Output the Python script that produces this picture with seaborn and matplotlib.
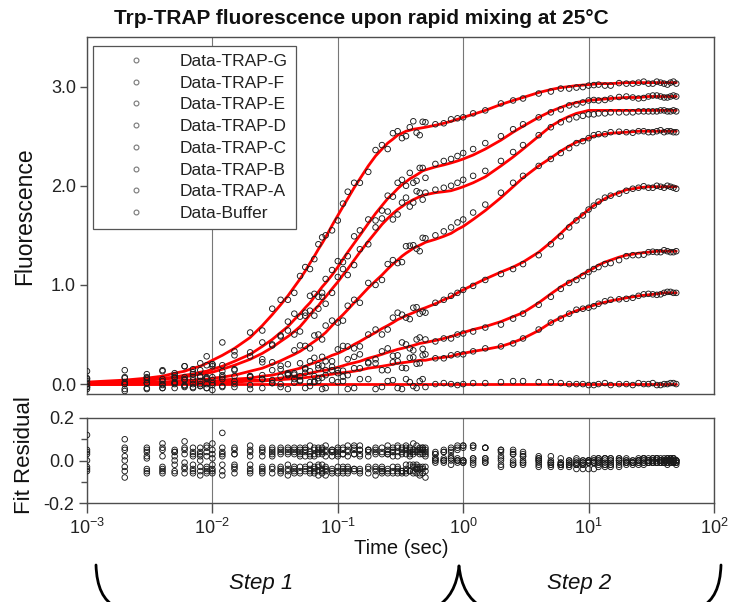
import numpy as np
import pandas as pd
import matplotlib
matplotlib.use("Agg")
import matplotlib.pyplot as plt
import seaborn as sns
from matplotlib.lines import Line2D
from matplotlib.path import Path
from matplotlib.patches import PathPatch
from matplotlib.ticker import FixedLocator, NullLocator, FormatStrFormatter

sns.set_theme(style="white")
plt.rcParams['font.family'] = ['Liberation Sans', 'DejaVu Sans']

# ---------------- data ----------------
series_names = ["Data-TRAP-G", "Data-TRAP-F", "Data-TRAP-E", "Data-TRAP-D",
                "Data-TRAP-C", "Data-TRAP-B", "Data-TRAP-A", "Data-Buffer"]

# --- sampling set 1 ---
time_s = [0.001, 0.002, 0.003, 0.004, 0.005, 0.006, 0.007, 0.008, 0.009, 0.01,
          0.012, 0.015, 0.02, 0.025, 0.03, 0.04, 0.05, 0.06, 0.07, 0.08,
          0.1, 0.12, 0.15, 0.2, 0.25, 0.3, 0.35, 0.4, 0.45, 0.5,
          0.6, 0.7, 0.8, 0.9, 1.0, 1.2, 1.5, 2.0, 2.5, 3.0,
          4.0, 5.0, 6.0, 7.0, 8.0, 10.0, 12.0, 15.0, 20.0, 25.0,
          30.0, 35.0, 40.0, 45.0, 50.0]

# red fit curves
fit_G = [0.02, 0.04, 0.06, 0.08, 0.11, 0.13, 0.16, 0.18, 0.21, 0.24,
         0.29, 0.36, 0.47, 0.59, 0.70, 0.89, 1.06, 1.22, 1.36, 1.48,
         1.70, 1.87, 2.07, 2.30, 2.43, 2.51, 2.55, 2.57, 2.58, 2.59,
         2.61, 2.63, 2.65, 2.67, 2.69, 2.72, 2.76, 2.82, 2.86, 2.89,
         2.94, 2.97, 2.99, 3.00, 3.01, 3.02, 3.03, 3.03, 3.04, 3.04,
         3.04, 3.04, 3.04, 3.04, 3.04]
fit_F = [0.01, 0.03, 0.04, 0.06, 0.07, 0.09, 0.10, 0.12, 0.13, 0.15,
         0.18, 0.23, 0.30, 0.38, 0.45, 0.58, 0.71, 0.82, 0.93, 1.02,
         1.18, 1.33, 1.50, 1.72, 1.87, 1.97, 2.04, 2.09, 2.13, 2.16,
         2.19, 2.21, 2.23, 2.25, 2.27, 2.31, 2.37, 2.46, 2.54, 2.60,
         2.69, 2.75, 2.79, 2.82, 2.84, 2.86, 2.87, 2.88, 2.89, 2.89,
         2.90, 2.90, 2.90, 2.90, 2.90]
fit_E = [0.01, 0.02, 0.04, 0.05, 0.06, 0.07, 0.09, 0.10, 0.11, 0.12,
         0.15, 0.19, 0.25, 0.31, 0.37, 0.48, 0.58, 0.70, 0.79, 0.88,
         1.03, 1.16, 1.33, 1.53, 1.67, 1.76, 1.82, 1.86, 1.89, 1.91,
         1.93, 1.94, 1.95, 1.97, 1.99, 2.03, 2.09, 2.20, 2.29, 2.37,
         2.50, 2.60, 2.66, 2.70, 2.73, 2.76, 2.76, 2.76, 2.76, 2.76,
         2.76, 2.76, 2.76, 2.76, 2.76]
fit_D = [0.00, 0.01, 0.02, 0.02, 0.03, 0.04, 0.04, 0.05, 0.05, 0.06,
         0.07, 0.09, 0.13, 0.16, 0.20, 0.27, 0.33, 0.40, 0.46, 0.52,
         0.65, 0.75, 0.88, 1.04, 1.16, 1.25, 1.32, 1.37, 1.40, 1.43,
         1.46, 1.49, 1.52, 1.56, 1.59, 1.66, 1.75, 1.88, 1.99, 2.08,
         2.20, 2.28, 2.35, 2.40, 2.44, 2.48, 2.51, 2.53, 2.54, 2.55,
         2.55, 2.55, 2.55, 2.55, 2.55]
fit_C = [0.00, 0.00, 0.01, 0.01, 0.01, 0.02, 0.02, 0.02, 0.03, 0.03,
         0.04, 0.05, 0.06, 0.08, 0.09, 0.13, 0.16, 0.20, 0.23, 0.26,
         0.31, 0.36, 0.43, 0.52, 0.59, 0.65, 0.69, 0.72, 0.75, 0.77,
         0.81, 0.85, 0.88, 0.92, 0.95, 1.00, 1.06, 1.13, 1.18, 1.23,
         1.33, 1.43, 1.52, 1.60, 1.66, 1.76, 1.83, 1.90, 1.96, 1.98,
         1.99, 1.99, 1.99, 1.99, 1.99]
fit_B = [0.00, 0.00, 0.00, 0.01, 0.01, 0.01, 0.01, 0.01, 0.02, 0.02,
         0.02, 0.03, 0.04, 0.04, 0.05, 0.07, 0.09, 0.11, 0.13, 0.14,
         0.17, 0.20, 0.23, 0.28, 0.32, 0.35, 0.37, 0.39, 0.41, 0.42,
         0.44, 0.46, 0.48, 0.50, 0.52, 0.55, 0.58, 0.63, 0.68, 0.72,
         0.82, 0.91, 0.98, 1.03, 1.07, 1.14, 1.20, 1.25, 1.30, 1.32,
         1.33, 1.34, 1.34, 1.34, 1.34]
fit_A = [0.00, 0.00, 0.00, 0.00, 0.01, 0.01, 0.01, 0.01, 0.01, 0.01,
         0.01, 0.02, 0.03, 0.03, 0.04, 0.05, 0.06, 0.07, 0.08, 0.09,
         0.11, 0.12, 0.14, 0.17, 0.19, 0.21, 0.22, 0.23, 0.24, 0.24,
         0.26, 0.27, 0.28, 0.30, 0.31, 0.33, 0.35, 0.38, 0.42, 0.46,
         0.54, 0.62, 0.67, 0.71, 0.74, 0.78, 0.81, 0.84, 0.87, 0.89,
         0.90, 0.91, 0.92, 0.92, 0.92]
fit_Buf = [0.00, 0.00, 0.00, 0.00, 0.00, 0.00, 0.00, 0.00, 0.00, 0.00,
           0.00, 0.00, 0.00, 0.00, 0.00, 0.00, 0.00, 0.00, 0.00, 0.00,
           0.00, 0.00, 0.00, 0.00, 0.00, 0.00, 0.00, 0.00, 0.00, 0.00,
           0.00, 0.00, 0.00, 0.00, 0.00, 0.00, 0.00, 0.00, 0.00, 0.00,
           0.00, 0.00, 0.00, 0.00, 0.00, 0.00, 0.00, 0.00, 0.00, 0.00,
           0.00, 0.00, 0.00, 0.00, 0.00]

# fit residuals (data - fit)
res_G = [0.04, 0.10, -0.05, 0.06, -0.02, 0.05, -0.06, 0.03, 0.07, -0.04,
         0.13, -0.03, 0.05, -0.05, 0.06, -0.04, 0.03, -0.06, 0.05, 0.02,
         -0.05, 0.07, -0.04, 0.06, -0.06, 0.04, -0.05, 0.08, -0.07, 0.05,
         0.01, 0.00, 0.02, 0.01, 0.00, 0.01, 0.00, 0.01, 0.00, -0.01,
         -0.01, -0.02, -0.01, -0.02, -0.02, -0.01, -0.01, -0.02, -0.01, 0.00,
         -0.01, 0.01, -0.01, 0.00, -0.01]
res_F = [0.12, -0.03, 0.06, -0.06, 0.04, 0.09, 0.02, -0.05, 0.06, 0.03,
         -0.05, 0.06, -0.02, 0.04, -0.06, 0.05, -0.03, 0.07, -0.05, 0.04,
         0.06, -0.04, 0.05, -0.07, 0.03, 0.06, -0.04, -0.06, 0.05, -0.08,
         0.03, 0.04, 0.04, 0.05, 0.06, 0.06, 0.06, 0.04, 0.03, 0.02,
         0.00, -0.01, -0.02, -0.01, -0.02, 0.00, -0.01, 0.00, 0.01, -0.01,
         0.00, 0.01, -0.01, 0.00, 0.00]
res_E = [-0.04, 0.05, 0.02, 0.08, -0.06, -0.03, 0.06, 0.04, -0.05, 0.08,
         0.04, -0.04, 0.07, -0.06, 0.03, 0.06, -0.05, 0.04, -0.03, -0.07,
         0.05, -0.06, 0.03, 0.05, 0.07, -0.05, 0.06, -0.03, 0.04, 0.02,
         0.03, 0.04, 0.05, 0.06, 0.07, 0.07, 0.06, 0.05, 0.05, 0.04,
         0.01, -0.01, -0.02, -0.03, -0.04, -0.04, -0.03, -0.02, -0.02, -0.01,
         -0.01, -0.01, 0.00, -0.01, -0.01]
res_D = [0.03, -0.08, 0.05, -0.03, 0.04, -0.06, 0.03, -0.07, 0.02, -0.05,
         0.02, 0.05, -0.06, 0.06, 0.02, -0.07, 0.06, -0.04, 0.04, 0.07,
         -0.03, 0.04, -0.06, -0.04, 0.05, -0.03, 0.07, 0.03, -0.06, 0.04,
         0.04, 0.05, 0.06, 0.07, 0.07, 0.07, 0.06, 0.05, 0.04, 0.02,
         0.00, -0.01, -0.02, -0.02, -0.01, 0.00, 0.01, 0.01, 0.00, 0.00,
         -0.01, 0.00, -0.01, 0.00, -0.01]
res_C = [-0.05, 0.02, -0.06, 0.02, -0.05, 0.03, -0.02, 0.06, -0.03, 0.01,
         -0.07, 0.03, 0.02, -0.03, 0.05, -0.02, 0.05, 0.03, -0.07, -0.03,
         0.04, 0.02, -0.05, 0.03, -0.04, 0.07, -0.02, 0.05, -0.04, -0.05,
         0.01, 0.00, 0.01, 0.00, 0.00, -0.01, -0.01, -0.02, -0.02, -0.02,
         -0.03, -0.02, -0.03, -0.02, -0.01, 0.00, 0.01, 0.00, -0.01, 0.00,
         -0.01, 0.01, -0.01, 0.00, -0.02]
res_B = [0.05, -0.05, 0.04, -0.05, 0.05, -0.04, -0.04, 0.02, -0.06, 0.05,
         0.03, -0.06, 0.04, 0.05, -0.04, 0.03, -0.06, 0.02, 0.06, -0.05,
         -0.06, 0.05, 0.07, -0.03, 0.04, -0.06, 0.03, -0.05, 0.06, 0.03,
         -0.01, 0.00, -0.02, 0.00, -0.01, -0.02, -0.01, -0.03, -0.02, -0.01,
         -0.02, -0.03, -0.02, -0.01, -0.02, -0.01, -0.02, -0.03, -0.01, -0.02,
         0.00, -0.01, 0.01, -0.01, 0.00]
res_A = [-0.03, 0.00, -0.04, 0.05, 0.00, 0.06, -0.05, -0.03, 0.04, -0.02,
         0.06, -0.02, -0.04, 0.02, -0.03, 0.04, 0.02, -0.05, -0.02, 0.05,
         0.03, -0.03, 0.02, 0.04, -0.05, 0.02, -0.06, 0.04, -0.03, 0.06,
         0.00, -0.01, 0.01, 0.00, -0.01, 0.00, 0.01, 0.00, -0.01, 0.00,
         0.01, 0.00, -0.01, 0.00, 0.01, -0.01, 0.00, 0.01, -0.01, 0.00,
         0.01, -0.01, 0.00, 0.01, 0.00]
res_Buf = [0.00, 0.06, 0.01, -0.04, 0.02, -0.01, 0.04, 0.00, -0.04, -0.06,
           -0.02, 0.03, -0.05, -0.04, 0.04, -0.05, 0.04, -0.02, 0.03, -0.04,
           0.02, -0.05, 0.05, -0.05, 0.03, -0.04, 0.05, -0.02, 0.03, -0.03,
           0.00, 0.01, 0.00, -0.01, 0.00, 0.01, 0.01, 0.02, 0.03, 0.03,
           0.02, 0.02, 0.01, 0.00, 0.00, -0.01, 0.00, -0.01, 0.00, 0.01,
           0.00, -0.01, 0.00, 0.01, 0.00]

# --- sampling set 2 (extra readings in the densely sampled stretches) ---
time_s_b = [0.035, 0.045, 0.055, 0.065, 0.075, 0.09, 0.11, 0.135, 0.175, 0.225,
            0.275, 0.325, 0.375, 0.425, 0.475,
            9.0, 11.0, 13.5, 17.5, 22.5, 27.5, 32.5, 37.5, 42.5, 47.5]

fit_G_b = [0.80, 0.98, 1.14, 1.29, 1.42, 1.60, 1.79, 1.98, 2.20, 2.37,
           2.47, 2.53, 2.56, 2.575, 2.585,
           3.015, 3.025, 3.03, 3.035, 3.04, 3.04, 3.04, 3.04, 3.04, 3.04]
fit_F_b = [0.52, 0.65, 0.77, 0.88, 0.98, 1.10, 1.26, 1.42, 1.62, 1.80,
           1.92, 2.01, 2.07, 2.11, 2.15,
           2.85, 2.865, 2.875, 2.885, 2.89, 2.895, 2.90, 2.90, 2.90, 2.90]
fit_E_b = [0.43, 0.53, 0.64, 0.75, 0.84, 0.96, 1.10, 1.25, 1.44, 1.61,
           1.72, 1.79, 1.84, 1.875, 1.90,
           2.745, 2.76, 2.76, 2.76, 2.76, 2.76, 2.76, 2.76, 2.76, 2.76]
fit_D_b = [0.235, 0.30, 0.365, 0.43, 0.49, 0.59, 0.70, 0.82, 0.97, 1.10,
           1.21, 1.29, 1.345, 1.385, 1.415,
           2.46, 2.50, 2.52, 2.535, 2.545, 2.55, 2.55, 2.55, 2.55, 2.55]
fit_C_b = [0.11, 0.145, 0.18, 0.215, 0.245, 0.29, 0.335, 0.40, 0.48, 0.56,
           0.62, 0.67, 0.705, 0.735, 0.76,
           1.71, 1.80, 1.87, 1.93, 1.97, 1.985, 1.99, 1.99, 1.99, 1.99]
fit_B_b = [0.06, 0.08, 0.10, 0.12, 0.135, 0.155, 0.185, 0.215, 0.26, 0.30,
           0.335, 0.36, 0.38, 0.40, 0.415,
           1.11, 1.17, 1.23, 1.28, 1.31, 1.325, 1.335, 1.34, 1.34, 1.34]
fit_A_b = [0.045, 0.055, 0.065, 0.075, 0.085, 0.10, 0.115, 0.13, 0.16, 0.18,
           0.20, 0.215, 0.225, 0.235, 0.24,
           0.76, 0.795, 0.825, 0.855, 0.88, 0.895, 0.905, 0.915, 0.92, 0.92]
fit_Buf_b = [0.00, 0.00, 0.00, 0.00, 0.00, 0.00, 0.00, 0.00, 0.00, 0.00,
             0.00, 0.00, 0.00, 0.00, 0.00,
             0.00, 0.00, 0.00, 0.00, 0.00, 0.00, 0.00, 0.00, 0.00, 0.00]

res_G_b = [0.05, -0.06, 0.04, -0.03, 0.06, -0.05, 0.03, 0.05, -0.06, 0.04,
           0.06, -0.05, 0.03, -0.04, 0.06,
           -0.02, -0.01, -0.02, 0.00, -0.01, 0.01, -0.01, 0.00, -0.02, 0.01]
res_F_b = [-0.04, 0.06, -0.05, 0.03, -0.06, 0.05, -0.03, 0.07, 0.04, -0.05,
           -0.03, 0.05, 0.06, -0.06, 0.03,
           -0.01, 0.00, -0.01, 0.01, 0.00, -0.01, 0.01, 0.00, -0.01, 0.01]
res_E_b = [0.06, -0.03, 0.05, -0.06, 0.04, -0.04, 0.06, -0.05, -0.03, 0.06,
           -0.06, 0.04, -0.05, 0.07, -0.04,
           -0.04, -0.04, -0.03, -0.02, -0.02, -0.01, -0.01, 0.00, -0.01, 0.00]
res_D_b = [-0.05, 0.04, 0.02, 0.06, -0.04, 0.05, -0.06, 0.03, 0.05, -0.05,
           0.04, -0.06, 0.05, -0.02, 0.06,
           -0.01, 0.01, 0.00, 0.01, -0.01, 0.00, -0.01, 0.01, 0.00, -0.01]
res_C_b = [0.04, -0.05, -0.03, 0.05, 0.03, -0.06, 0.05, -0.04, 0.02, -0.06,
           0.05, 0.03, -0.05, 0.04, -0.03,
           -0.01, 0.00, 0.01, -0.01, 0.00, 0.01, -0.01, 0.00, 0.01, -0.01]
res_B_b = [-0.06, 0.03, 0.06, -0.04, 0.05, 0.02, -0.05, 0.06, -0.04, 0.03,
           -0.05, 0.06, -0.02, 0.05, -0.06,
           -0.02, -0.01, -0.02, -0.03, -0.01, -0.02, 0.00, -0.01, 0.00, -0.01]
res_A_b = [0.03, -0.04, 0.05, -0.05, -0.02, 0.04, -0.04, 0.03, 0.05, -0.04,
           0.02, -0.05, 0.04, -0.03, 0.05,
           0.00, -0.01, 0.01, 0.00, -0.01, 0.01, 0.00, -0.01, 0.01, 0.00]
res_Buf_b = [-0.03, 0.05, -0.04, 0.02, -0.05, 0.04, 0.03, -0.04, 0.05, -0.03,
             0.04, -0.05, 0.02, -0.04, 0.05,
             0.00, -0.01, 0.01, 0.00, -0.01, 0.00, 0.01, -0.01, 0.00, 0.01]

fits = [fit_G, fit_F, fit_E, fit_D, fit_C, fit_B, fit_A, fit_Buf]
residuals = [res_G, res_F, res_E, res_D, res_C, res_B, res_A, res_Buf]
fits_b = [fit_G_b, fit_F_b, fit_E_b, fit_D_b, fit_C_b, fit_B_b, fit_A_b, fit_Buf_b]
residuals_b = [res_G_b, res_F_b, res_E_b, res_D_b, res_C_b, res_B_b, res_A_b, res_Buf_b]

x_ticks = [1e-3, 1e-2, 1e-1, 1e0, 1e1, 1e2]
y_ticks_main = [0.0, 1.0, 2.0, 3.0]
y_ticks_res = [-0.2, 0.0, 0.2]

# ---------------- build long table ----------------
frames = []
for tt, fl, rl in ((time_s, fits, residuals), (time_s_b, fits_b, residuals_b)):
    for name, f, r in zip(series_names, fl, rl):
        f = np.asarray(f, dtype=float)
        r = np.asarray(r, dtype=float)
        frames.append(pd.DataFrame({"series": name, "time": tt,
                                    "fit": f, "resid": r, "value": f + r}))
df = pd.concat(frames, ignore_index=True).sort_values(["series", "time"])

# ---------------- figure ----------------
W, H = 730, 602
fig = plt.figure(figsize=(W / 100, H / 100), dpi=100)

def rect(l, t, r, b):
    return [l / W, 1 - b / H, (r - l) / W, (b - t) / H]

ax = fig.add_axes(rect(87, 37, 714, 394))
axr = fig.add_axes(rect(87, 418, 714, 503))

spine_col = "#4d4d4d"
grid_col = "#777777"

for a in (ax, axr):
    a.set_xscale("log")
    a.set_xlim(1e-3, 1e2)
    a.set_facecolor("white")
    for s in a.spines.values():
        s.set_visible(True)
        s.set_color(spine_col)
        s.set_linewidth(1.0)
    a.xaxis.set_major_locator(FixedLocator(x_ticks))
    a.xaxis.set_minor_locator(NullLocator())
    a.grid(False)
    a.grid(axis="x", which="major", color=grid_col, linewidth=0.8)
    a.set_axisbelow(True)

# main panel
sns.lineplot(data=df, x="time", y="fit", units="series", estimator=None,
             color="#ff0000", linewidth=2.0, ax=ax, legend=False, zorder=2)
sns.scatterplot(data=df, x="time", y="value", ax=ax, marker="o", s=16,
                facecolor="none", edgecolor="#1a1a1a", linewidth=0.65,
                legend=False, zorder=3)
ax.set_ylim(-0.1, 3.5)
ax.yaxis.set_major_locator(FixedLocator(y_ticks_main))
ax.yaxis.set_major_formatter(FormatStrFormatter("%.1f"))
ax.tick_params(axis="y", which="major", left=True, length=5, width=1,
               color=spine_col, direction="out", labelsize=13, pad=3,
               labelcolor="#222222")
ax.tick_params(axis="x", which="both", bottom=False, labelbottom=False)
ax.set_xlabel("")
ax.set_ylabel("")

handles = [Line2D([], [], linestyle="none", marker="o", markersize=3.5,
                  markerfacecolor="none", markeredgecolor="#777777",
                  markeredgewidth=0.8) for _ in series_names]
leg = ax.legend(handles, series_names, loc="upper left",
                bbox_to_anchor=(6 / 627, 1 - 9 / 357), borderaxespad=0,
                frameon=True, fancybox=False, framealpha=1,
                edgecolor="#555555", fontsize=12.5, handlelength=4.0,
                handletextpad=0.55, labelspacing=0.38, borderpad=0.45)
leg.get_frame().set_linewidth(0.9)
for t in leg.get_texts():
    t.set_color("#222222")

# residual panel
sns.scatterplot(data=df, x="time", y="resid", ax=axr, marker="o", s=16,
                facecolor="none", edgecolor="#1a1a1a", linewidth=0.65,
                legend=False, zorder=3)
axr.set_ylim(-0.2, 0.2)
axr.yaxis.set_major_locator(FixedLocator(y_ticks_res))
axr.yaxis.set_minor_locator(FixedLocator([-0.1, 0.1]))
axr.yaxis.set_major_formatter(FormatStrFormatter("%.1f"))
axr.tick_params(axis="y", which="major", left=True, length=6, width=1,
                color=spine_col, direction="out", labelsize=13, pad=3,
                labelcolor="#222222")
axr.tick_params(axis="y", which="minor", left=True, length=4, width=1,
                color=spine_col, direction="out")
axr.tick_params(axis="x", which="major", bottom=True, length=7, width=1,
                color=spine_col, direction="out", labelsize=13, pad=4,
                labelcolor="#222222")
axr.set_xlabel("")
axr.set_ylabel("")

# text
fig.text(361 / W, 1 - 18 / H, "Trp-TRAP fluorescence upon rapid mixing at 25°C",
         ha="center", va="center", fontsize=15, fontweight="bold", color="#111111")
fig.text(25 / W, 1 - 216 / H, "Fluorescence", rotation=90, ha="center",
         va="center", fontsize=16.5, color="#111111")
fig.text(25 / W, 1 - 455 / H, "Fit Residual", rotation=90, ha="center",
         va="center", fontsize=16, color="#111111")
fig.text(401 / W, 1 - 548 / H, "Time (sec)", ha="center", va="center",
         fontsize=14.5, color="#111111")
fig.text(261 / W, 1 - 583 / H, "Step 1", ha="center", va="center",
         fontsize=16, style="italic", color="#111111")
fig.text(579 / W, 1 - 583 / H, "Step 2", ha="center", va="center",
         fontsize=16, style="italic", color="#111111")

# brace fragments at the bottom
def fig_pt(px, py):
    return (px / W, 1 - py / H)

brace_paths = [
    [(96, 565), (97, 598), (116, 607)],
    [(459, 566), (456, 596), (436, 607)],
    [(459, 566), (462, 596), (482, 607)],
    [(721, 565), (720, 598), (701, 607)],
]
for pts in brace_paths:
    verts = [fig_pt(*p) for p in pts]
    path = Path(verts, [Path.MOVETO, Path.CURVE3, Path.CURVE3])
    fig.add_artist(PathPatch(path, facecolor="none", edgecolor="black",
                             linewidth=2.0, transform=fig.transFigure,
                             capstyle="round"))

fig.savefig("out.png", dpi=100, facecolor="white")
